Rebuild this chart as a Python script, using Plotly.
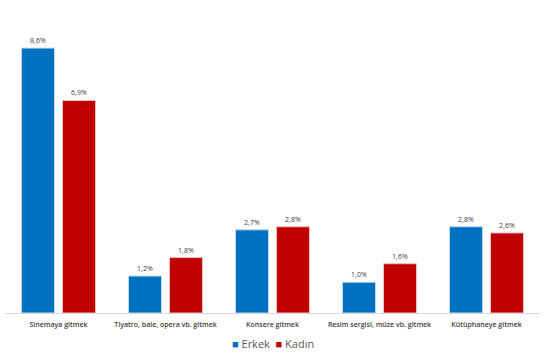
import plotly.graph_objects as go

categories = ["Sinemaya gitmek", "Tiyatro, bale, opera vb. gitmek", "Konsere gitmek",
              "Resim sergisi, müze vb. gitmek", "Kütüphaneye gitmek"]
erkek = [8.6, 1.2, 2.7, 1.0, 2.8]
kadin = [6.9, 1.8, 2.8, 1.6, 2.6]
series_names = ["Erkek", "Kadın"]
series_colors = ["#0070C0", "#C00000"]

def fmt(v):
    return f"{v:.1f}%".replace(".", ",")

fig = go.Figure()
for name, vals, col, edge in zip(series_names, [erkek, kadin], series_colors, ["#BFD9EE", "#EDBFBF"]):
    fig.add_trace(go.Bar(x=categories, y=vals, name=name,
                         marker=dict(color=col, line=dict(color=edge, width=1)),
                         text=[fmt(v) for v in vals], textposition="outside",
                         textfont=dict(size=7, color="#404040"), cliponaxis=False))

legend_text = "  ".join(
    f"<span style='color:{c}'>■</span> {n}" for n, c in zip(series_names, series_colors))
fig.add_annotation(text=legend_text, xref="paper", yref="paper", x=0.5, y=-0.098,
                   xanchor="center", yanchor="middle", showarrow=False,
                   font=dict(size=11, color="#595959", family="Open Sans"))

fig.update_layout(
    width=547, height=354,
    margin=dict(l=5, r=7, t=5, b=41),
    paper_bgcolor="white", plot_bgcolor="white",
    barmode="group", bargap=0.234, bargroupgap=0.195,
    font=dict(family="Open Sans", color="#595959"),
    showlegend=False,
    xaxis=dict(showline=True, linecolor="#D9D9D9", linewidth=1, ticks="",
               ticklabelstandoff=5,
               tickfont=dict(size=7, color="#404040", weight=600), showgrid=False),
    yaxis=dict(range=[0, 10], visible=False, showgrid=False, zeroline=False),
    uniformtext=dict(minsize=6, mode="show"),
)
fig.write_html("out.html")
